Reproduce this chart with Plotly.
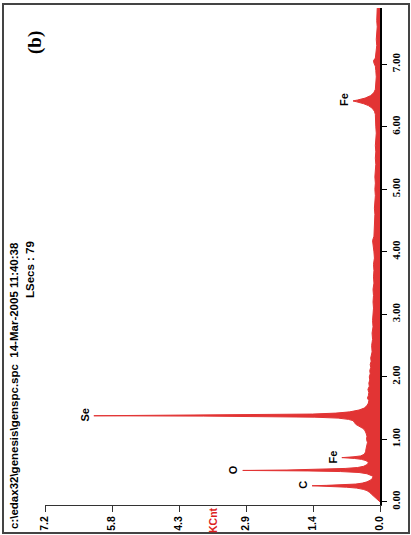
import plotly.graph_objects as go

# ---- data ----
energy_kev = [
    0.00, 0.03, 0.06, 0.09, 0.12, 0.15, 0.18, 0.20, 0.22, 0.235, 0.245, 0.252, 0.258, 0.264, 0.272, 0.285,
    0.30, 0.32, 0.35, 0.38, 0.41, 0.43, 0.45, 0.47, 0.485, 0.495, 0.503, 0.51, 0.52, 0.535, 0.55, 0.57,
    0.60, 0.63, 0.66, 0.68, 0.695, 0.708, 0.72, 0.735, 0.76, 0.80, 0.85, 0.90, 0.95, 1.00, 1.05, 1.10,
    1.15, 1.18, 1.21, 1.24, 1.27, 1.30, 1.32, 1.34, 1.355, 1.365, 1.372, 1.378, 1.385, 1.393, 1.405, 1.42,
    1.44, 1.47, 1.50, 1.54, 1.58, 1.62, 1.66, 1.70, 1.75, 1.80, 1.85, 1.90, 1.95, 2.00, 2.05, 2.10,
    2.15, 2.20, 2.25, 2.30, 2.35, 2.40, 2.50, 2.60, 2.70, 2.80, 2.90, 3.00, 3.10, 3.20, 3.30, 3.40,
    3.50, 3.60, 3.70, 3.80, 3.90, 4.00, 4.10, 4.18, 4.25, 4.35, 4.50, 4.60, 4.70, 4.80, 4.90, 5.00,
    5.10, 5.20, 5.30, 5.40, 5.50, 5.60, 5.70, 5.80, 5.90, 6.00, 6.10, 6.20, 6.25, 6.30, 6.34, 6.37,
    6.40, 6.415, 6.43, 6.46, 6.50, 6.55, 6.60, 6.70, 6.80, 6.90, 6.97, 7.02, 7.06, 7.10, 7.20, 7.30,
    7.40, 7.50, 7.60, 7.70, 7.80, 7.90,
]
counts_kcnt = [
    0.00, 0.05, 0.10, 0.14, 0.18, 0.22, 0.28, 0.36, 0.50, 0.72, 1.00, 1.30, 1.46, 1.15, 0.80, 0.52,
    0.38, 0.28, 0.20, 0.16, 0.15, 0.20, 0.28, 0.45, 0.85, 1.55, 2.95, 2.00, 1.25, 0.75, 0.48, 0.35,
    0.27, 0.25, 0.30, 0.40, 0.55, 0.82, 0.58, 0.42, 0.34, 0.31, 0.30, 0.29, 0.27, 0.29, 0.28, 0.30,
    0.33, 0.38, 0.46, 0.52, 0.55, 0.58, 0.68, 0.90, 1.40, 2.30, 3.80, 6.15, 4.20, 2.50, 1.45, 0.95,
    0.65, 0.45, 0.34, 0.28, 0.25, 0.24, 0.27, 0.25, 0.24, 0.26, 0.23, 0.24, 0.22, 0.23, 0.21, 0.22,
    0.20, 0.21, 0.19, 0.20, 0.18, 0.17, 0.18, 0.16, 0.17, 0.15, 0.16, 0.15, 0.14, 0.15, 0.14, 0.15,
    0.13, 0.14, 0.13, 0.14, 0.12, 0.13, 0.14, 0.16, 0.13, 0.12, 0.12, 0.11, 0.12, 0.11, 0.10, 0.11,
    0.10, 0.11, 0.10, 0.09, 0.10, 0.09, 0.10, 0.09, 0.08, 0.09, 0.09, 0.10, 0.12, 0.17, 0.25, 0.35,
    0.50, 0.58, 0.48, 0.32, 0.20, 0.13, 0.10, 0.09, 0.08, 0.09, 0.10, 0.13, 0.14, 0.10, 0.08, 0.07,
    0.08, 0.07, 0.06, 0.07, 0.06, 0.06,
]

peak_names = ["C", "O", "Fe", "Se", "Fe"]
peak_energy = [0.258, 0.503, 0.708, 1.378, 6.415]
peak_height = [1.46, 2.95, 0.82, 6.15, 0.58]

count_tickvals = [0.0, 1.44, 2.88, 4.32, 5.76, 7.2]
count_ticktext = ["0.0", "1.4", "2.9", "4.3", "5.8", "7.2"]
energy_tickvals = [0, 1, 2, 3, 4, 5, 6, 7]
energy_ticktext = ["0.00", "1.00", "2.00", "3.00", "4.00", "5.00", "6.00", "7.00"]

header_text = "c:\\edax32\\genesis\\genspc.spc\u00a0 14-Mar-2005 11:40:38"
lsecs_text = "LSecs : 79"
panel_label = "(b)"
count_unit = "KCnt"

W, H = 411, 535
RED = "rgb(226,52,52)"

fig = go.Figure()
fig.add_trace(go.Scatter(
    x=counts_kcnt, y=energy_kev, mode="lines", fill="tozerox",
    line=dict(color=RED, width=1), fillcolor=RED, hoverinfo="skip", showlegend=False,
))

annotations = []
for name, e, h in zip(peak_names, peak_energy, peak_height):
    annotations.append(dict(
        x=h, y=e, xref="x", yref="y", text="<b>%s</b>" % name, showarrow=False,
        textangle=-90, xanchor="center", yanchor="middle", xshift=-9, yshift=1,
        font=dict(family="Liberation Sans, Arial", size=11, color="black"),
    ))

def px(xp, yp):
    return xp / W, 1 - yp / H

for txt, (cx, cy), size, fam, col in [
    (header_text, (14, 386), 11.5, "Liberation Sans, Arial", "black"),
    (lsecs_text, (30, 269), 11.5, "Liberation Sans, Arial", "black"),
    (panel_label, (35, 43), 19, "Liberation Serif, Times New Roman", "black"),
    (count_unit, (213, 520), 10.5, "Liberation Sans, Arial", "rgb(220,30,30)"),
]:
    ax, ay = px(cx, cy)
    annotations.append(dict(
        x=ax, y=ay, xref="paper", yref="paper", text="<b>%s</b>" % txt, showarrow=False,
        textangle=-90, xanchor="center", yanchor="middle",
        font=dict(family=fam, size=size, color=col),
    ))

fig.update_layout(
    template="none",
    width=W, height=H, margin=dict(l=0, r=0, t=0, b=0, pad=0),
    paper_bgcolor="white", plot_bgcolor="white",
    annotations=annotations,
    xaxis=dict(
        automargin=False,
        range=[7.2, 0], domain=[45 / W, 380 / W], showgrid=False, zeroline=False,
        showline=True, linecolor="#333", linewidth=1, ticks="outside", ticklen=6,
        tickcolor="#333", tickvals=count_tickvals,
        ticktext=["<b>%s</b>" % t for t in count_ticktext], tickangle=-90,
        tickfont=dict(family="Liberation Sans, Arial", size=10.5, color="black"),
    ),
    yaxis=dict(
        automargin=False,
        range=[-0.05, 7.9], domain=[(H - 505) / H, (H - 8.1) / H], side="right",
        showgrid=False, zeroline=False, showline=True, linecolor="black", linewidth=2,
        ticks="outside", ticklen=5, tickcolor="black", tickvals=energy_tickvals,
        ticktext=["<b>%s</b>" % t for t in energy_ticktext], tickangle=-90,
        tickfont=dict(family="Liberation Serif, Times New Roman", size=11, color="black"),
    ),
    shapes=[dict(type="rect", xref="paper", yref="paper", x0=3 / W, x1=409 / W,
                 y0=1 - 533 / H, y1=1 - 4 / H, line=dict(color="#444", width=2))],
)

fig.write_html(
    "out.html",
    config={"displayModeBar": False, "staticPlot": True},
    post_script="document.body.style.margin='0px';document.body.style.overflow='hidden';",
)
